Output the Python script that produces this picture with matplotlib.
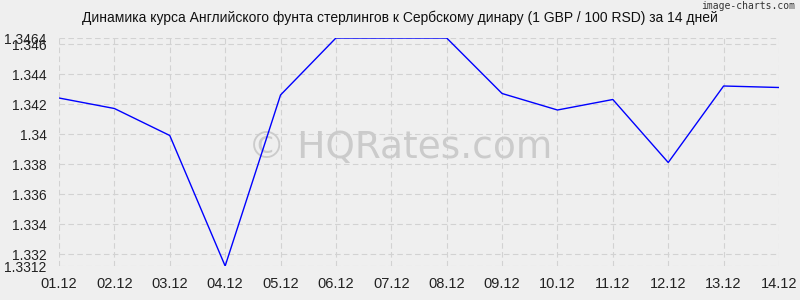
import matplotlib.pyplot as plt

# data
dates = ['01.12', '02.12', '03.12', '04.12', '05.12', '06.12', '07.12',
         '08.12', '09.12', '10.12', '11.12', '12.12', '13.12', '14.12']
rates = [1.3424, 1.3417, 1.3399, 1.3312, 1.3426, 1.3464, 1.3464,
         1.3464, 1.3427, 1.3416, 1.3423, 1.3381, 1.3432, 1.3431]
y_ticks = [1.3312, 1.332, 1.334, 1.336, 1.338, 1.34, 1.342, 1.344, 1.346, 1.3464]
y_labels = ['1.3312', '1.332', '1.334', '1.336', '1.338', '1.34', '1.342', '1.344', '1.346', '1.3464']

plt.rcParams['font.family'] = ['Liberation Sans', 'DejaVu Sans']
bg = '#efefef'
fig = plt.figure(figsize=(8, 3), dpi=100, facecolor=bg)
ax = fig.add_axes([59 / 800, 1 - 266 / 300, 720 / 800, 228 / 300])
ax.set_facecolor(bg)

x = list(range(len(dates)))
ax.plot(x, rates, color='#0000ff', lw=1, zorder=3)

ax.set_xlim(0, len(dates) - 1)
ax.set_ylim(1.3312, 1.3464)
ax.set_xticks(x)
ax.set_xticklabels(dates)
ax.set_yticks(y_ticks)
ax.set_yticklabels(y_labels)
ax.tick_params(length=0, labelsize=10.5, colors='#222222', pad=8)
ax.tick_params(axis='y', labelsize=10, pad=9)
ax.grid(True, color='#d2d2d2', ls=(0, (5, 3)), lw=0.8)
for s in ax.spines.values():
    s.set_visible(False)

ax.text(0.474, 0.517, '© HQRates.com', transform=ax.transAxes, ha='center', va='center',
        fontsize=27, family='DejaVu Sans', color='#cbcbcb', zorder=2)

fig.text(0.5, 1 - 18 / 300, 'Динамика курса Английского фунта стерлингов к Сербскому динару (1 GBP / 100 RSD) за 14 дней',
         ha='center', va='center', fontsize=10, color='#111111')
fig.text(0.994, 1 - 6 / 300, 'image-charts.com', ha='right', va='center',
         fontsize=7, family='DejaVu Sans Mono', color='#333333')

fig.savefig('out.png', dpi=100, facecolor=bg)
